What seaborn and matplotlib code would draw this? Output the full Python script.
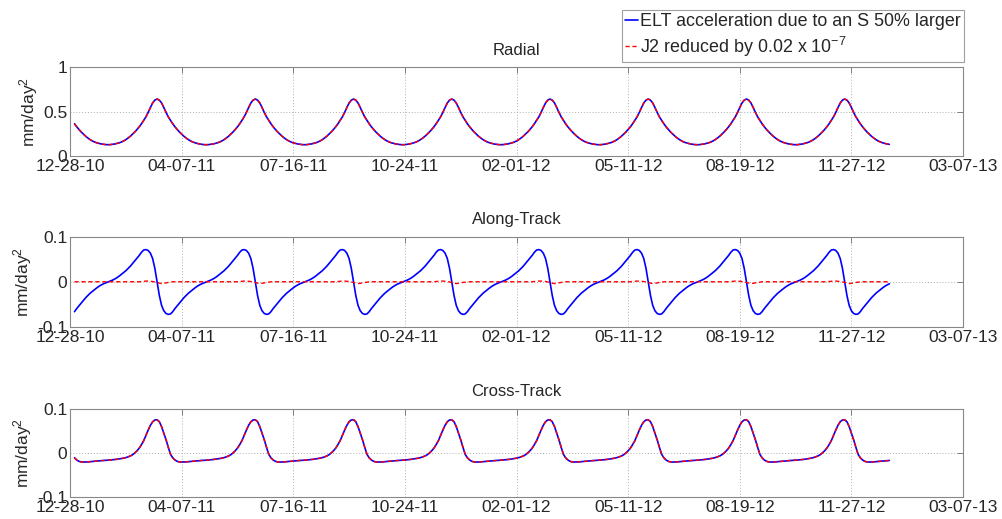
import pandas as pd
import numpy as np
import matplotlib
matplotlib.use("Agg")
import matplotlib.pyplot as plt
import matplotlib.dates as mdates
import seaborn as sns

# 取樣日期 (每 2 天一點, 2011-01-01 起, 共 366 點)
dates = pd.date_range("2011-01-01", periods=366, freq="2D")

# Radial (藍線與紅線重疊), 每行一個軌道週期
radial = [
    # c1 (部分)
    0.362, 0.328, 0.298, 0.270, 0.246, 0.222, 0.202, 0.184, 0.169, 0.157, 0.148, 0.141, 0.135, 0.131, 0.128, 0.127, 0.128, 0.131, 0.135, 0.141, 0.148, 0.157, 0.169, 0.184, 0.202, 0.222, 0.246, 0.270, 0.298, 0.328, 0.362, 0.400, 0.440, 0.490, 0.545, 0.596, 0.628, 0.640, 0.628, 0.596, 0.545, 0.490, 0.440,
    # c2
    0.400, 0.362, 0.328, 0.298, 0.270, 0.246, 0.222, 0.202, 0.184, 0.169, 0.157, 0.148, 0.141, 0.135, 0.131, 0.128, 0.127, 0.128, 0.131, 0.135, 0.141, 0.148, 0.157, 0.169, 0.184, 0.202, 0.222, 0.246, 0.270, 0.298, 0.328, 0.362, 0.400, 0.440, 0.490, 0.545, 0.596, 0.628, 0.640, 0.628, 0.596, 0.545, 0.490, 0.440,
    # c3
    0.400, 0.362, 0.328, 0.298, 0.270, 0.246, 0.222, 0.202, 0.184, 0.169, 0.157, 0.148, 0.141, 0.135, 0.131, 0.128, 0.127, 0.128, 0.131, 0.135, 0.141, 0.148, 0.157, 0.169, 0.184, 0.202, 0.222, 0.246, 0.270, 0.298, 0.328, 0.362, 0.400, 0.440, 0.490, 0.545, 0.596, 0.628, 0.640, 0.628, 0.596, 0.545, 0.490, 0.440,
    # c4
    0.400, 0.362, 0.328, 0.298, 0.270, 0.246, 0.222, 0.202, 0.184, 0.169, 0.157, 0.148, 0.141, 0.135, 0.131, 0.128, 0.127, 0.128, 0.131, 0.135, 0.141, 0.148, 0.157, 0.169, 0.184, 0.202, 0.222, 0.246, 0.270, 0.298, 0.328, 0.362, 0.400, 0.440, 0.490, 0.545, 0.596, 0.628, 0.640, 0.628, 0.596, 0.545, 0.490, 0.440,
    # c5
    0.400, 0.362, 0.328, 0.298, 0.270, 0.246, 0.222, 0.202, 0.184, 0.169, 0.157, 0.148, 0.141, 0.135, 0.131, 0.128, 0.127, 0.128, 0.131, 0.135, 0.141, 0.148, 0.157, 0.169, 0.184, 0.202, 0.222, 0.246, 0.270, 0.298, 0.328, 0.362, 0.400, 0.440, 0.490, 0.545, 0.596, 0.628, 0.640, 0.628, 0.596, 0.545, 0.490, 0.440,
    # c6
    0.400, 0.362, 0.328, 0.298, 0.270, 0.246, 0.222, 0.202, 0.184, 0.169, 0.157, 0.148, 0.141, 0.135, 0.131, 0.128, 0.127, 0.128, 0.131, 0.135, 0.141, 0.148, 0.157, 0.169, 0.184, 0.202, 0.222, 0.246, 0.270, 0.298, 0.328, 0.362, 0.400, 0.440, 0.490, 0.545, 0.596, 0.628, 0.640, 0.628, 0.596, 0.545, 0.490, 0.440,
    # c7
    0.400, 0.362, 0.328, 0.298, 0.270, 0.246, 0.222, 0.202, 0.184, 0.169, 0.157, 0.148, 0.141, 0.135, 0.131, 0.128, 0.127, 0.128, 0.131, 0.135, 0.141, 0.148, 0.157, 0.169, 0.184, 0.202, 0.222, 0.246, 0.270, 0.298, 0.328, 0.362, 0.400, 0.440, 0.490, 0.545, 0.596, 0.628, 0.640, 0.628, 0.596, 0.545, 0.490, 0.440,
    # c8
    0.400, 0.362, 0.328, 0.298, 0.270, 0.246, 0.222, 0.202, 0.184, 0.169, 0.157, 0.148, 0.141, 0.135, 0.131, 0.128, 0.127, 0.128, 0.131, 0.135, 0.141, 0.148, 0.157, 0.169, 0.184, 0.202, 0.222, 0.246, 0.270, 0.298, 0.328, 0.362, 0.400, 0.440, 0.490, 0.545, 0.596, 0.628, 0.640, 0.628, 0.596, 0.545, 0.490, 0.440,
    # 尾段
    0.400, 0.362, 0.328, 0.298, 0.270, 0.246, 0.222, 0.202, 0.184, 0.169, 0.157, 0.148, 0.141, 0.135, 0.131,
]

# Along-Track 藍線
along_elt = [
    # c1 (部分)
    -0.066, -0.059, -0.053, -0.047, -0.041, -0.035, -0.030, -0.025, -0.021, -0.017, -0.013, -0.0095, -0.0065, -0.004, -0.002, 0.000, 0.002, 0.004, 0.0065, 0.0095, 0.013, 0.017, 0.021, 0.025, 0.030, 0.035, 0.041, 0.047, 0.053, 0.059, 0.066, 0.071, 0.072, 0.070, 0.064, 0.052, 0.030, 0.000, -0.030, -0.052, -0.064, -0.070, -0.072,
    # c2
    -0.071, -0.066, -0.059, -0.053, -0.047, -0.041, -0.035, -0.030, -0.025, -0.021, -0.017, -0.013, -0.0095, -0.0065, -0.004, -0.002, 0.000, 0.002, 0.004, 0.0065, 0.0095, 0.013, 0.017, 0.021, 0.025, 0.030, 0.035, 0.041, 0.047, 0.053, 0.059, 0.066, 0.071, 0.072, 0.070, 0.064, 0.052, 0.030, 0.000, -0.030, -0.052, -0.064, -0.070, -0.072,
    # c3
    -0.071, -0.066, -0.059, -0.053, -0.047, -0.041, -0.035, -0.030, -0.025, -0.021, -0.017, -0.013, -0.0095, -0.0065, -0.004, -0.002, 0.000, 0.002, 0.004, 0.0065, 0.0095, 0.013, 0.017, 0.021, 0.025, 0.030, 0.035, 0.041, 0.047, 0.053, 0.059, 0.066, 0.071, 0.072, 0.070, 0.064, 0.052, 0.030, 0.000, -0.030, -0.052, -0.064, -0.070, -0.072,
    # c4
    -0.071, -0.066, -0.059, -0.053, -0.047, -0.041, -0.035, -0.030, -0.025, -0.021, -0.017, -0.013, -0.0095, -0.0065, -0.004, -0.002, 0.000, 0.002, 0.004, 0.0065, 0.0095, 0.013, 0.017, 0.021, 0.025, 0.030, 0.035, 0.041, 0.047, 0.053, 0.059, 0.066, 0.071, 0.072, 0.070, 0.064, 0.052, 0.030, 0.000, -0.030, -0.052, -0.064, -0.070, -0.072,
    # c5
    -0.071, -0.066, -0.059, -0.053, -0.047, -0.041, -0.035, -0.030, -0.025, -0.021, -0.017, -0.013, -0.0095, -0.0065, -0.004, -0.002, 0.000, 0.002, 0.004, 0.0065, 0.0095, 0.013, 0.017, 0.021, 0.025, 0.030, 0.035, 0.041, 0.047, 0.053, 0.059, 0.066, 0.071, 0.072, 0.070, 0.064, 0.052, 0.030, 0.000, -0.030, -0.052, -0.064, -0.070, -0.072,
    # c6
    -0.071, -0.066, -0.059, -0.053, -0.047, -0.041, -0.035, -0.030, -0.025, -0.021, -0.017, -0.013, -0.0095, -0.0065, -0.004, -0.002, 0.000, 0.002, 0.004, 0.0065, 0.0095, 0.013, 0.017, 0.021, 0.025, 0.030, 0.035, 0.041, 0.047, 0.053, 0.059, 0.066, 0.071, 0.072, 0.070, 0.064, 0.052, 0.030, 0.000, -0.030, -0.052, -0.064, -0.070, -0.072,
    # c7
    -0.071, -0.066, -0.059, -0.053, -0.047, -0.041, -0.035, -0.030, -0.025, -0.021, -0.017, -0.013, -0.0095, -0.0065, -0.004, -0.002, 0.000, 0.002, 0.004, 0.0065, 0.0095, 0.013, 0.017, 0.021, 0.025, 0.030, 0.035, 0.041, 0.047, 0.053, 0.059, 0.066, 0.071, 0.072, 0.070, 0.064, 0.052, 0.030, 0.000, -0.030, -0.052, -0.064, -0.070, -0.072,
    # c8
    -0.071, -0.066, -0.059, -0.053, -0.047, -0.041, -0.035, -0.030, -0.025, -0.021, -0.017, -0.013, -0.0095, -0.0065, -0.004, -0.002, 0.000, 0.002, 0.004, 0.0065, 0.0095, 0.013, 0.017, 0.021, 0.025, 0.030, 0.035, 0.041, 0.047, 0.053, 0.059, 0.066, 0.071, 0.072, 0.070, 0.064, 0.052, 0.030, 0.000, -0.030, -0.052, -0.064, -0.070, -0.072,
    # 尾段
    -0.071, -0.066, -0.059, -0.053, -0.047, -0.041, -0.035, -0.030, -0.025, -0.021, -0.017, -0.013, -0.0095, -0.0065, -0.004,
]

# Along-Track 紅線 (J2), 幾乎為 0
along_j2 = [
    # c1 (部分)
    0.0005, 0.0005, 0.0005, 0.0005, 0.0005, 0.0005, 0.0005, 0.0005, 0.0005, 0.0005, 0.0005, 0.0005, 0.0005, 0.0005, 0.0005, 0.0005, 0.0005, 0.0005, 0.0005, 0.0005, 0.0005, 0.0005, 0.0005, 0.0005, 0.0005, 0.0005, 0.0005, 0.0005, 0.0005, 0.0005, 0.001, 0.0015, 0.002, 0.002, 0.0015, 0.001, 0.000, -0.001, -0.0025, -0.0035, -0.003, -0.002, -0.001,
    # c2
    -0.0005, 0.0005, 0.0005, 0.0005, 0.0005, 0.0005, 0.0005, 0.0005, 0.0005, 0.0005, 0.0005, 0.0005, 0.0005, 0.0005, 0.0005, 0.0005, 0.0005, 0.0005, 0.0005, 0.0005, 0.0005, 0.0005, 0.0005, 0.0005, 0.0005, 0.0005, 0.0005, 0.0005, 0.0005, 0.0005, 0.0005, 0.001, 0.0015, 0.002, 0.002, 0.0015, 0.001, 0.000, -0.001, -0.0025, -0.0035, -0.003, -0.002, -0.001,
    # c3
    -0.0005, 0.0005, 0.0005, 0.0005, 0.0005, 0.0005, 0.0005, 0.0005, 0.0005, 0.0005, 0.0005, 0.0005, 0.0005, 0.0005, 0.0005, 0.0005, 0.0005, 0.0005, 0.0005, 0.0005, 0.0005, 0.0005, 0.0005, 0.0005, 0.0005, 0.0005, 0.0005, 0.0005, 0.0005, 0.0005, 0.0005, 0.001, 0.0015, 0.002, 0.002, 0.0015, 0.001, 0.000, -0.001, -0.0025, -0.0035, -0.003, -0.002, -0.001,
    # c4
    -0.0005, 0.0005, 0.0005, 0.0005, 0.0005, 0.0005, 0.0005, 0.0005, 0.0005, 0.0005, 0.0005, 0.0005, 0.0005, 0.0005, 0.0005, 0.0005, 0.0005, 0.0005, 0.0005, 0.0005, 0.0005, 0.0005, 0.0005, 0.0005, 0.0005, 0.0005, 0.0005, 0.0005, 0.0005, 0.0005, 0.0005, 0.001, 0.0015, 0.002, 0.002, 0.0015, 0.001, 0.000, -0.001, -0.0025, -0.0035, -0.003, -0.002, -0.001,
    # c5
    -0.0005, 0.0005, 0.0005, 0.0005, 0.0005, 0.0005, 0.0005, 0.0005, 0.0005, 0.0005, 0.0005, 0.0005, 0.0005, 0.0005, 0.0005, 0.0005, 0.0005, 0.0005, 0.0005, 0.0005, 0.0005, 0.0005, 0.0005, 0.0005, 0.0005, 0.0005, 0.0005, 0.0005, 0.0005, 0.0005, 0.0005, 0.001, 0.0015, 0.002, 0.002, 0.0015, 0.001, 0.000, -0.001, -0.0025, -0.0035, -0.003, -0.002, -0.001,
    # c6
    -0.0005, 0.0005, 0.0005, 0.0005, 0.0005, 0.0005, 0.0005, 0.0005, 0.0005, 0.0005, 0.0005, 0.0005, 0.0005, 0.0005, 0.0005, 0.0005, 0.0005, 0.0005, 0.0005, 0.0005, 0.0005, 0.0005, 0.0005, 0.0005, 0.0005, 0.0005, 0.0005, 0.0005, 0.0005, 0.0005, 0.0005, 0.001, 0.0015, 0.002, 0.002, 0.0015, 0.001, 0.000, -0.001, -0.0025, -0.0035, -0.003, -0.002, -0.001,
    # c7
    -0.0005, 0.0005, 0.0005, 0.0005, 0.0005, 0.0005, 0.0005, 0.0005, 0.0005, 0.0005, 0.0005, 0.0005, 0.0005, 0.0005, 0.0005, 0.0005, 0.0005, 0.0005, 0.0005, 0.0005, 0.0005, 0.0005, 0.0005, 0.0005, 0.0005, 0.0005, 0.0005, 0.0005, 0.0005, 0.0005, 0.0005, 0.001, 0.0015, 0.002, 0.002, 0.0015, 0.001, 0.000, -0.001, -0.0025, -0.0035, -0.003, -0.002, -0.001,
    # c8
    -0.0005, 0.0005, 0.0005, 0.0005, 0.0005, 0.0005, 0.0005, 0.0005, 0.0005, 0.0005, 0.0005, 0.0005, 0.0005, 0.0005, 0.0005, 0.0005, 0.0005, 0.0005, 0.0005, 0.0005, 0.0005, 0.0005, 0.0005, 0.0005, 0.0005, 0.0005, 0.0005, 0.0005, 0.0005, 0.0005, 0.0005, 0.001, 0.0015, 0.002, 0.002, 0.0015, 0.001, 0.000, -0.001, -0.0025, -0.0035, -0.003, -0.002, -0.001,
    # 尾段
    -0.0005, 0.0005, 0.0005, 0.0005, 0.0005, 0.0005, 0.0005, 0.0005, 0.0005, 0.0005, 0.0005, 0.0005, 0.0005, 0.0005, 0.0005,
]

# Cross-Track (藍線與紅線重疊)
cross = [
    # c1 (部分)
    -0.011, -0.016, -0.019, -0.0203, -0.0206, -0.0205, -0.0202, -0.0198, -0.0193, -0.0188, -0.0183, -0.0178, -0.0174, -0.017, -0.0167, -0.0165, -0.016, -0.0155, -0.015, -0.0143, -0.0135, -0.0127, -0.0118, -0.0105, -0.0088, -0.0068, -0.004, 0.000, 0.005, 0.011, 0.019, 0.028, 0.040, 0.052, 0.063, 0.071, 0.075, 0.0755, 0.071, 0.060, 0.045, 0.030, 0.013,
    # c2
    -0.003, -0.011, -0.016, -0.019, -0.0203, -0.0206, -0.0205, -0.0202, -0.0198, -0.0193, -0.0188, -0.0183, -0.0178, -0.0174, -0.017, -0.0167, -0.0165, -0.016, -0.0155, -0.015, -0.0143, -0.0135, -0.0127, -0.0118, -0.0105, -0.0088, -0.0068, -0.004, 0.000, 0.005, 0.011, 0.019, 0.028, 0.040, 0.052, 0.063, 0.071, 0.075, 0.0755, 0.071, 0.060, 0.045, 0.030, 0.013,
    # c3
    -0.003, -0.011, -0.016, -0.019, -0.0203, -0.0206, -0.0205, -0.0202, -0.0198, -0.0193, -0.0188, -0.0183, -0.0178, -0.0174, -0.017, -0.0167, -0.0165, -0.016, -0.0155, -0.015, -0.0143, -0.0135, -0.0127, -0.0118, -0.0105, -0.0088, -0.0068, -0.004, 0.000, 0.005, 0.011, 0.019, 0.028, 0.040, 0.052, 0.063, 0.071, 0.075, 0.0755, 0.071, 0.060, 0.045, 0.030, 0.013,
    # c4
    -0.003, -0.011, -0.016, -0.019, -0.0203, -0.0206, -0.0205, -0.0202, -0.0198, -0.0193, -0.0188, -0.0183, -0.0178, -0.0174, -0.017, -0.0167, -0.0165, -0.016, -0.0155, -0.015, -0.0143, -0.0135, -0.0127, -0.0118, -0.0105, -0.0088, -0.0068, -0.004, 0.000, 0.005, 0.011, 0.019, 0.028, 0.040, 0.052, 0.063, 0.071, 0.075, 0.0755, 0.071, 0.060, 0.045, 0.030, 0.013,
    # c5
    -0.003, -0.011, -0.016, -0.019, -0.0203, -0.0206, -0.0205, -0.0202, -0.0198, -0.0193, -0.0188, -0.0183, -0.0178, -0.0174, -0.017, -0.0167, -0.0165, -0.016, -0.0155, -0.015, -0.0143, -0.0135, -0.0127, -0.0118, -0.0105, -0.0088, -0.0068, -0.004, 0.000, 0.005, 0.011, 0.019, 0.028, 0.040, 0.052, 0.063, 0.071, 0.075, 0.0755, 0.071, 0.060, 0.045, 0.030, 0.013,
    # c6
    -0.003, -0.011, -0.016, -0.019, -0.0203, -0.0206, -0.0205, -0.0202, -0.0198, -0.0193, -0.0188, -0.0183, -0.0178, -0.0174, -0.017, -0.0167, -0.0165, -0.016, -0.0155, -0.015, -0.0143, -0.0135, -0.0127, -0.0118, -0.0105, -0.0088, -0.0068, -0.004, 0.000, 0.005, 0.011, 0.019, 0.028, 0.040, 0.052, 0.063, 0.071, 0.075, 0.0755, 0.071, 0.060, 0.045, 0.030, 0.013,
    # c7
    -0.003, -0.011, -0.016, -0.019, -0.0203, -0.0206, -0.0205, -0.0202, -0.0198, -0.0193, -0.0188, -0.0183, -0.0178, -0.0174, -0.017, -0.0167, -0.0165, -0.016, -0.0155, -0.015, -0.0143, -0.0135, -0.0127, -0.0118, -0.0105, -0.0088, -0.0068, -0.004, 0.000, 0.005, 0.011, 0.019, 0.028, 0.040, 0.052, 0.063, 0.071, 0.075, 0.0755, 0.071, 0.060, 0.045, 0.030, 0.013,
    # c8
    -0.003, -0.011, -0.016, -0.019, -0.0203, -0.0206, -0.0205, -0.0202, -0.0198, -0.0193, -0.0188, -0.0183, -0.0178, -0.0174, -0.017, -0.0167, -0.0165, -0.016, -0.0155, -0.015, -0.0143, -0.0135, -0.0127, -0.0118, -0.0105, -0.0088, -0.0068, -0.004, 0.000, 0.005, 0.011, 0.019, 0.028, 0.040, 0.052, 0.063, 0.071, 0.075, 0.0755, 0.071, 0.060, 0.045, 0.030, 0.013,
    # 尾段
    -0.003, -0.011, -0.016, -0.019, -0.0203, -0.0206, -0.0205, -0.0202, -0.0198, -0.0193, -0.0188, -0.0183, -0.0178, -0.0174, -0.017,
]

panel_titles = ["Radial", "Along-Track", "Cross-Track"]
y_ticks = [[0, 0.5, 1], [-0.1, 0, 0.1], [-0.1, 0, 0.1]]
y_tick_labels = [["0", "0.5", "1"], ["-0.1", "0", "0.1"], ["-0.1", "0", "0.1"]]
x_tick_dates = pd.date_range("2010-12-28", periods=9, freq="100D")
legend_labels = ["ELT acceleration due to an S 50% larger",
                 "J2 reduced by 0.02 x 10$^{\\mathrm{-}7}$"]

# 建立資料表
df = pd.DataFrame({
    "date": dates,
    "radial_elt": radial,
    "radial_j2": radial,
    "along_elt": along_elt,
    "along_j2": along_j2,
    "cross_elt": cross,
    "cross_j2": cross,
})

# 設定樣式 (MATLAB 風格)
sns.set_style("white")
plt.rcParams['font.family'] = ['Liberation Sans', 'DejaVu Sans']
plt.rcParams['mathtext.fontset'] = 'custom'
plt.rcParams['mathtext.rm'] = 'Liberation Sans'
plt.rcParams['mathtext.it'] = 'Liberation Sans:italic'
plt.rcParams['axes.unicode_minus'] = False

fig = plt.figure(figsize=(10.02, 5.19), dpi=100)
ax_rects = [
    [0.0699, 0.6994, 0.8912, 0.1715],
    [0.0699, 0.3700, 0.8912, 0.1734],
    [0.0699, 0.0424, 0.8912, 0.1696],
]
keys = ["radial", "along", "cross"]

for i, key in enumerate(keys):
    ax = fig.add_axes(ax_rects[i])
    sns.lineplot(data=df, x="date", y=f"{key}_elt", ax=ax, color="#0000ff",
                 linewidth=1.2, label=legend_labels[0] if i == 0 else None, legend=False)
    sns.lineplot(data=df, x="date", y=f"{key}_j2", ax=ax, color="#ff0000",
                 linewidth=1.0, linestyle=(0, (3, 2)),
                 label=legend_labels[1] if i == 0 else None, legend=False)

    ax.set_xlim(x_tick_dates[0], x_tick_dates[-1])
    ax.set_ylim(y_ticks[i][0], y_ticks[i][-1])
    ax.set_xticks(x_tick_dates)
    ax.xaxis.set_major_formatter(mdates.DateFormatter("%m-%d-%y"))
    ax.set_yticks(y_ticks[i])
    ax.set_yticklabels(y_tick_labels[i])

    ax.set_title(panel_titles[i], fontsize=12, pad=9)
    ax.set_xlabel("")
    ax.set_ylabel("mm/day$^2$", fontsize=12.5, labelpad=2)

    ax.grid(True, linestyle=(0, (1, 2)), color="#b0b0b0", linewidth=0.7)
    ax.tick_params(axis="both", direction="in", length=4, width=0.7,
                   top=True, right=True, labelsize=12.5, pad=2, color="#808080")
    for sp in ax.spines.values():
        sp.set_color("#888888")
        sp.set_linewidth(0.8)

    if i == 0:
        handles, labels = ax.get_legend_handles_labels()

# 圖例 (右上角)
leg = fig.legend(handles, labels, loc="upper right",
                 bbox_to_anchor=(964 / 1002, 1 - 9.5 / 519),
                 fontsize=12.9, handlelength=0.7, handletextpad=0.1,
                 borderpad=0.2, labelspacing=0.25, frameon=True,
                 fancybox=False, borderaxespad=0)
leg.get_frame().set_edgecolor("#888888")
leg.get_frame().set_linewidth(0.8)

plt.savefig("out.png", dpi=100)
plt.close()
